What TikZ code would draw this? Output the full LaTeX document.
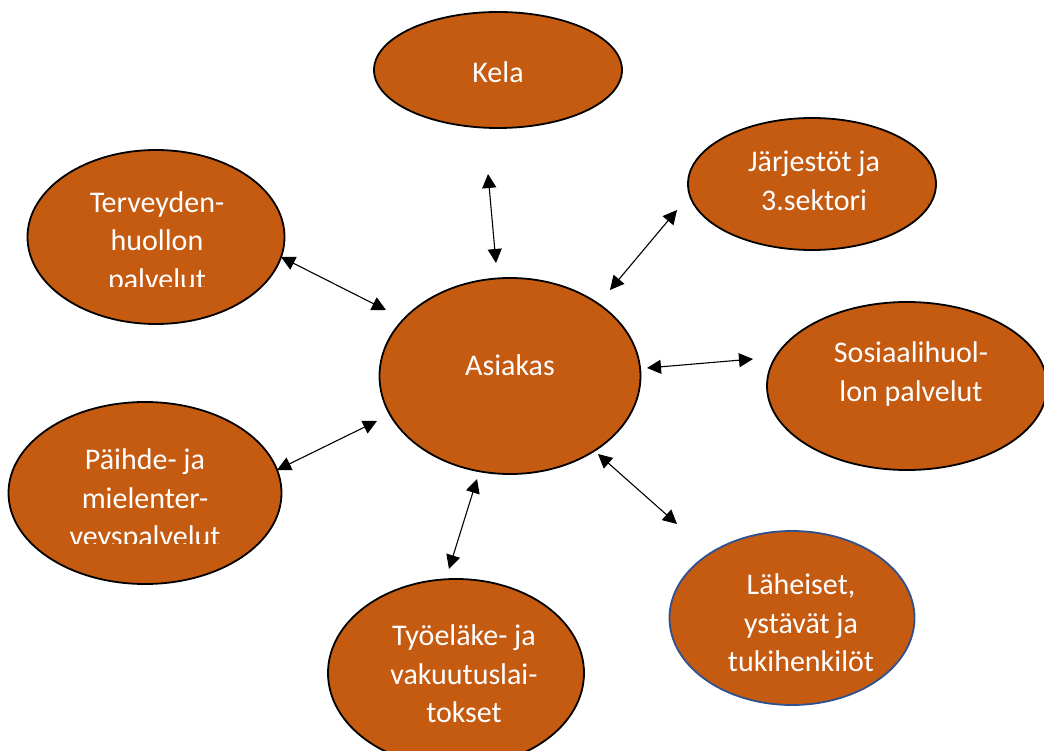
\documentclass[tikz,border=0pt]{standalone}
\usepackage{fontspec}
\setmainfont{Carlito}
\usetikzlibrary{shapes.geometric,arrows.meta}
\definecolor{fillorange}{HTML}{C55A11}
\definecolor{edgeblue}{HTML}{2F528F}
\begin{document}
\begin{tikzpicture}[x=1pt,y=-1pt,
  bubble/.style={ellipse,draw=black,line width=1.8pt,fill=fillorange,inner sep=0pt},
  lbl/.style={text=white,align=center,inner sep=0pt,font=\fontsize{30}{38.5}\selectfont},
  link/.style={line width=1.1pt,{Triangle[length=14pt,width=14pt]}-{Triangle[length=14pt,width=14pt]}}]
\useasboundingbox (0,0) rectangle (1044,751);
% ellipses
\node[bubble,minimum width=248pt,minimum height=116pt] (kela) at (498,70) {};
\node[bubble,minimum width=257pt,minimum height=174pt] (terv) at (156,237) {};
\node[bubble,minimum width=248pt,minimum height=132pt] (jarj) at (812,184) {};
\node[bubble,minimum width=261pt,minimum height=196pt] (asiakas) at (510,376) {};
\node[bubble,minimum width=280pt,minimum height=168pt] (sos) at (907,386) {};
\node[bubble,minimum width=273pt,minimum height=182pt] (paih) at (145,493) {};
\node[bubble,minimum width=256pt,minimum height=188pt] (tyo) at (456,673) {};
\node[bubble,draw=edgeblue,minimum width=245pt,minimum height=174pt] (lah) at (792,618) {};
% labels
\node[lbl] (tkela) at (498,72) {Kela};
\begin{scope}
  \clip (20,150) rectangle (300,287);
  \node[lbl] (tterv) at (157,243) {Terveyden-\\huollon\\palvelut};
\end{scope}
\node[lbl] (tjarj) at (814,181) {Järjestöt ja\\3.sektori};
\node[lbl] (tasiakas) at (510,365) {Asiakas};
\node[lbl] (tsos) at (911,374) {Sosiaalihuol-\\lon palvelut};
\begin{scope}
  \clip (0,400) rectangle (290,543);
  \node[lbl] (tpaih) at (145,500) {Päihde- ja\\mielenter-\\veyspalvelut};
\end{scope}
\node[lbl] (ttyo) at (464,674) {Työeläke- ja\\vakuutuslai-\\tokset};
\node[lbl] (tlah) at (801,623) {Läheiset,\\ystävät ja\\tukihenkilöt};
% connector end points
\coordinate (k1) at (488,174);
\coordinate (k2) at (496,263);
\coordinate (j1) at (677,210);
\coordinate (j2) at (610,290);
\coordinate (t1) at (281,257);
\coordinate (t2) at (386,310);
\coordinate (s1) at (753,359);
\coordinate (s2) at (647,368);
\coordinate (p1) at (277,470);
\coordinate (p2) at (377,421);
\coordinate (y1) at (449,569);
\coordinate (y2) at (477,479);
\coordinate (l1) at (677,524);
\coordinate (l2) at (598,454);
% connectors
\draw[link] (k1) -- (k2);
\draw[link] (j1) -- (j2);
\draw[link] (t1) -- (t2);
\draw[link] (s1) -- (s2);
\draw[link] (p1) -- (p2);
\draw[link] (y1) -- (y2);
\draw[link] (l1) -- (l2);
\end{tikzpicture}
\end{document}
